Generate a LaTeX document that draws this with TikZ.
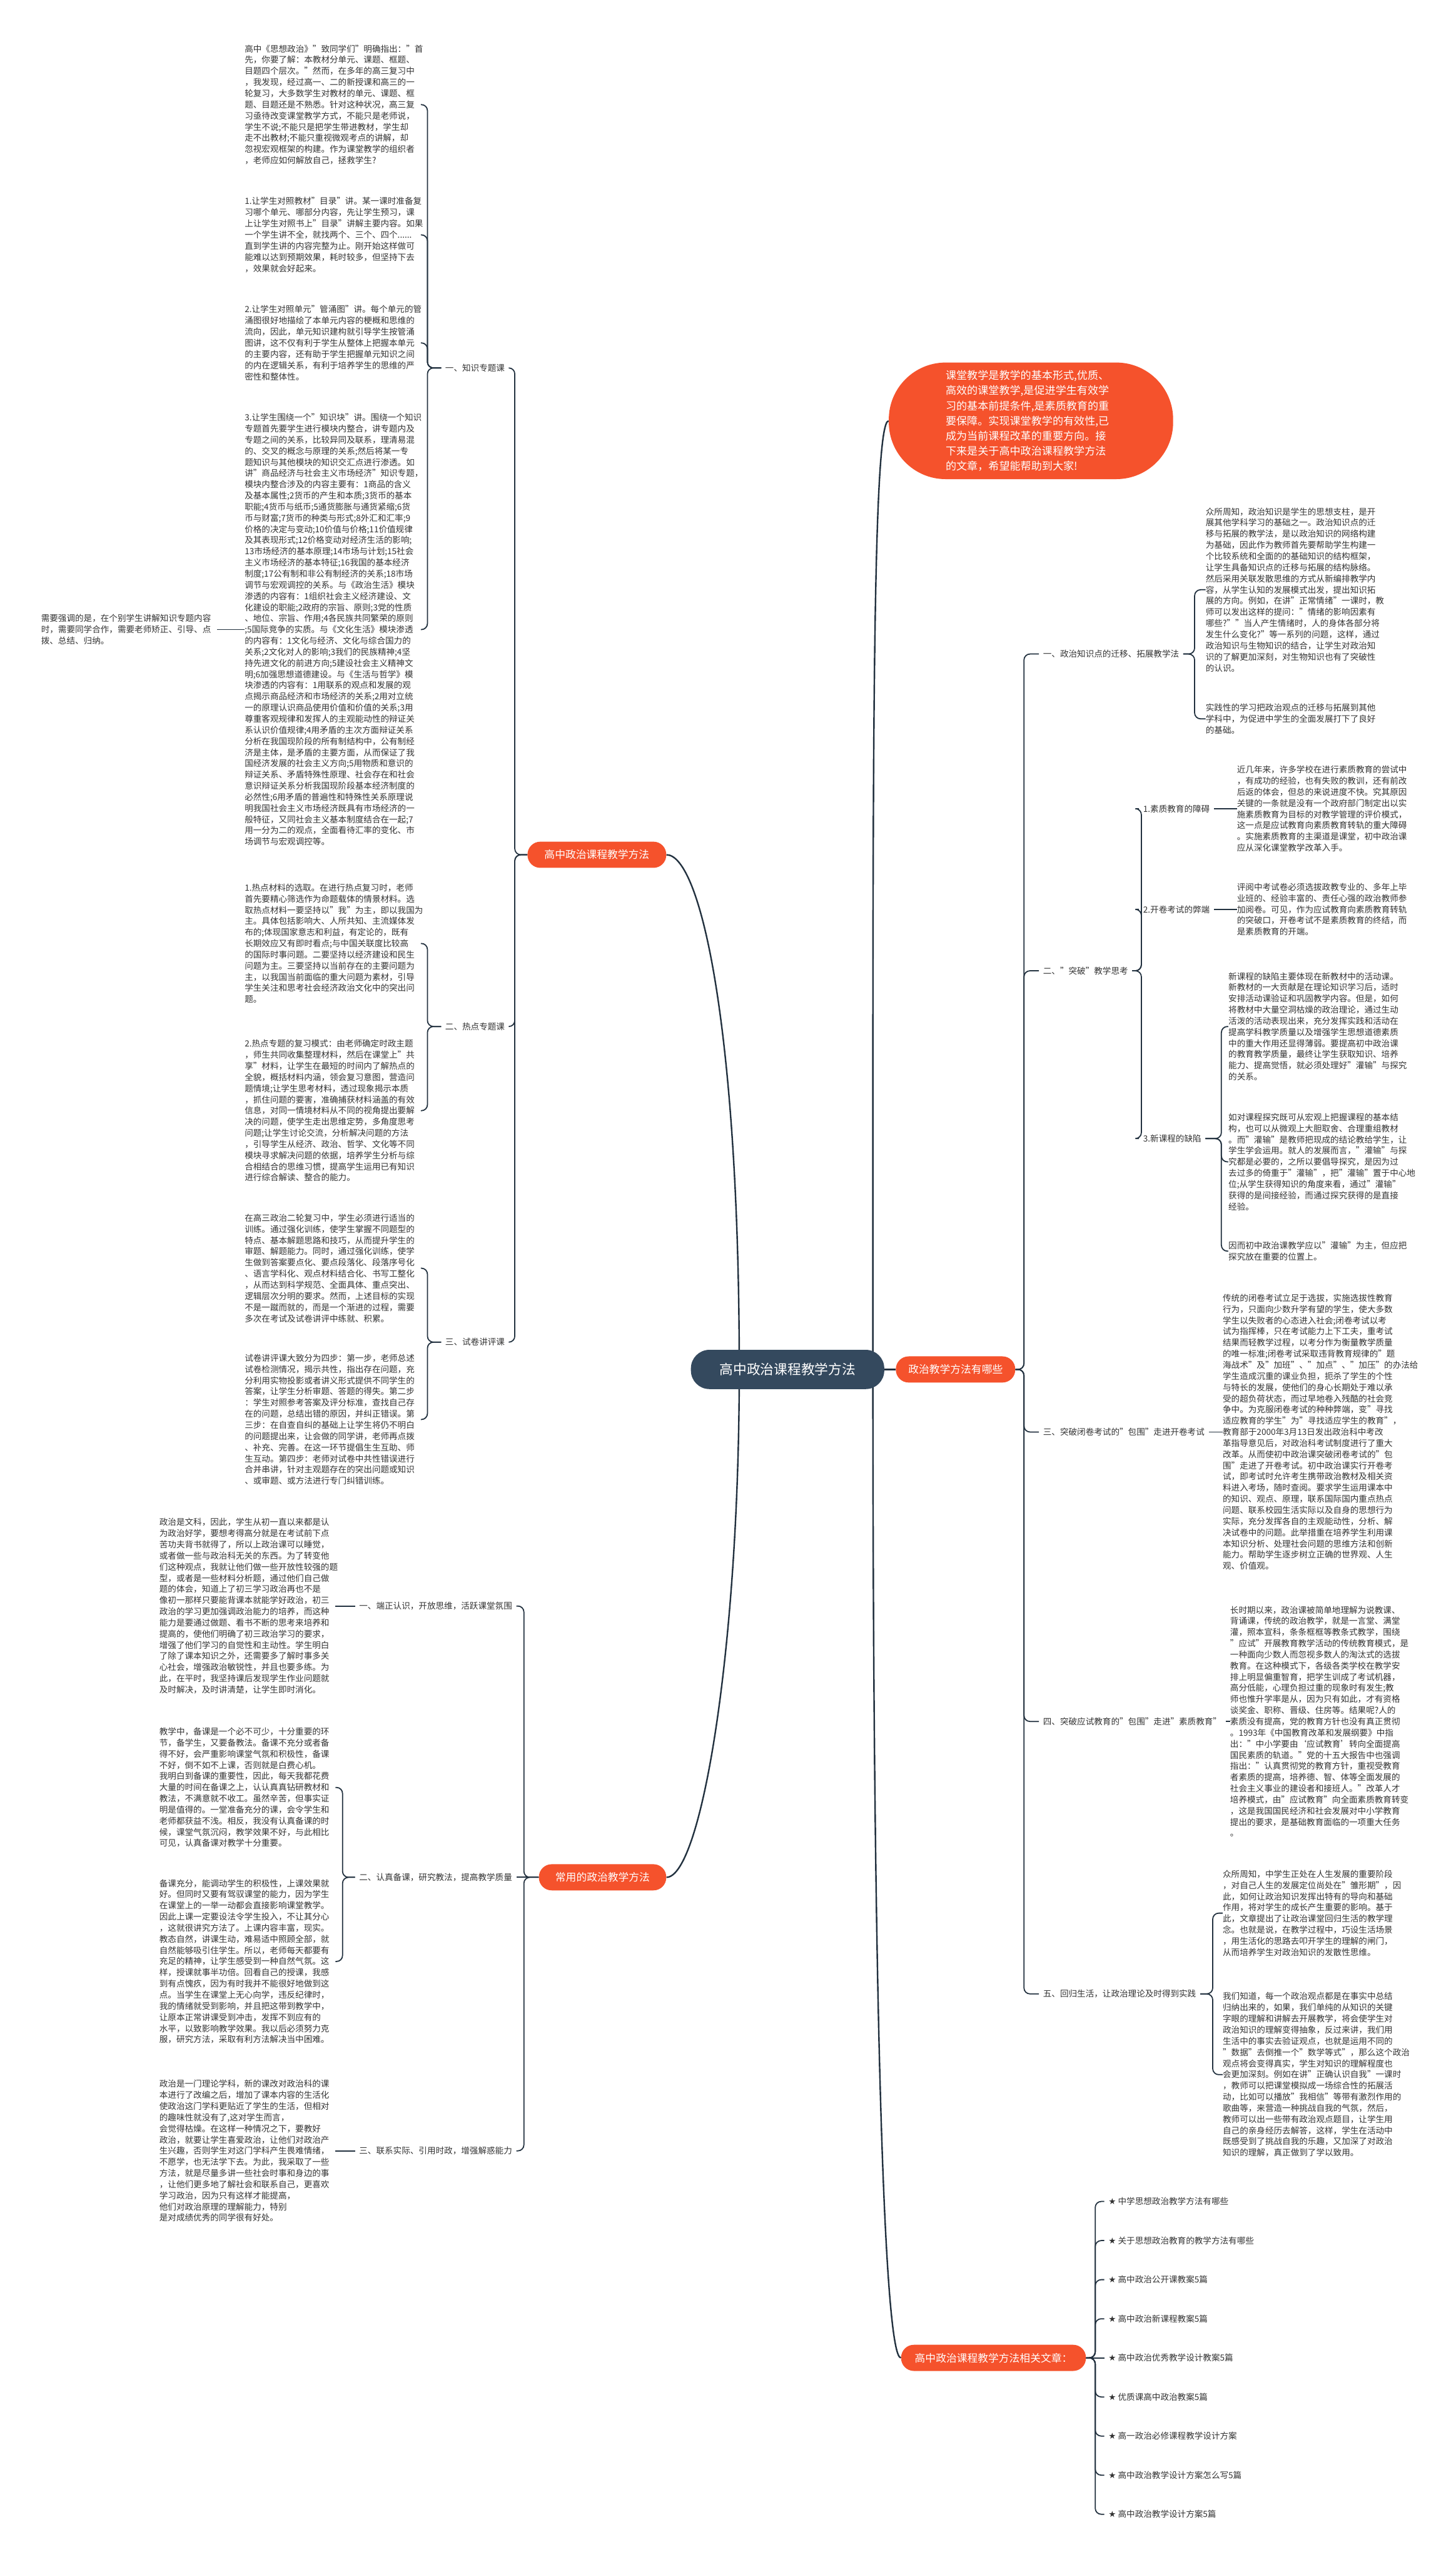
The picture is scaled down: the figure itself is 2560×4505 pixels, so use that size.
\documentclass[tikz,border=0pt]{standalone}
\usepackage{fontspec}
\setmainfont{Noto Sans CJK SC}
\newfontfamily\starfont{DejaVu Sans}
\usetikzlibrary{backgrounds}
\definecolor{mapred}{HTML}{F5522C}
\definecolor{mapslate}{HTML}{34495E}
\definecolor{mapline}{HTML}{22313F}
\definecolor{maptext}{HTML}{333333}
\tikzset{
  txtblock/.style = {anchor=west,inner sep=0pt,align=left,text width=176pt,text=maptext,font=\fontsize{8.5}{11.17}\selectfont},
  lbl/.style      = {inner xsep=4pt,inner ysep=1pt,text=maptext,font=\fontsize{8.5}{11.17}\selectfont},
  branch/.style   = {fill=mapred,text=white,rounded corners=4.5mm,minimum height=9.2mm,inner xsep=3mm,font=\fontsize{10.5}{12}\selectfont},
  rootbox/.style  = {fill=mapslate,text=white,rounded corners=6.5mm,minimum width=68mm,minimum height=13.8mm,font=\fontsize{13.6}{16}\selectfont},
  link/.style     = {draw=mapline,line width=1.1pt,rounded corners=6pt},
  trunk/.style    = {draw=mapline,line width=1.5pt}
}

\begin{document}
\begin{tikzpicture}[x=0.2mm,y=-0.2mm]
  \useasboundingbox (0,0) rectangle (2560,4505);

  % centre and main branches
  \node[rootbox] (root) at (1385,2408) {高中政治课程教学方法};
  \node[fill=mapred,text=white,rounded corners=20mm,minimum width=100mm,minimum height=41mm,
        text width=60mm,align=left,font=\fontsize{10.7}{15.1}\selectfont] (intro) at (1813,740)
    {课堂教学是教学的基本形式,优质、\\高效的课堂教学,是促进学生有效学\\习的基本前提条件,是素质教育的重\\要保障。实现课堂教学的有效性,已\\成为当前课程改革的重要方向。接\\下来是关于高中政治课程教学方法\\的文章，希望能帮助到大家!};
  \node[branch,minimum width=42mm,anchor=west]   (ffyn) at (1575,2408) {政治教学方法有哪些};
  \node[branch,minimum width=65mm,anchor=east]   (xgwz) at (1910,4146) {高中政治课程教学方法相关文章：};
  \node[branch,minimum width=48.8mm,anchor=east] (hzk)  at (1172,1503) {高中政治课程教学方法};
  \node[branch,minimum width=44.8mm,anchor=east] (cyff) at (1172,3301) {常用的政治教学方法};

  % left: 高中政治课程教学方法
  \node[lbl,anchor=east] (k1) at (895,647)  {一、知识专题课};
  \node[lbl,anchor=east] (k2) at (895,1805) {二、热点专题课};
  \node[lbl,anchor=east] (k3) at (895,2360) {三、试卷讲评课};

  \node[txtblock] (a0) at (430,184) {高中《思想政治》"致同学们"明确指出："首\\先，你要了解：本教材分单元、课题、框题、\\目题四个层次。"然而，在多年的高三复习中\\，我发现，经过高一、二的新授课和高三的一\\轮复习，大多数学生对教材的单元、课题、框\\题、目题还是不熟悉。针对这种状况，高三复\\习亟待改变课堂教学方式，不能只是老师说，\\学生不说;不能只是把学生带进教材，学生却\\走不出教材;不能只重视微观考点的讲解，却\\忽视宏观框架的构建。作为课堂教学的组织者\\，老师应如何解放自己，拯救学生?};
  \node[txtblock] (a1) at (430,413) {1.让学生对照教材"目录"讲。某一课时准备复\\习哪个单元、哪部分内容，先让学生预习，课\\上让学生对照书上"目录"讲解主要内容。如果\\一个学生讲不全，就找两个、三个、四个......\\直到学生讲的内容完整为止。刚开始这样做可\\能难以达到预期效果，耗时较多，但坚持下去\\，效果就会好起来。};
  \node[txtblock] (a2) at (430,603) {2.让学生对照单元"管涌图"讲。每个单元的管\\涌图很好地描绘了本单元内容的梗概和思维的\\流向，因此，单元知识建构就引导学生按管涌\\图讲，这不仅有利于学生从整体上把握本单元\\的主要内容，还有助于学生把握单元知识之间\\的内在逻辑关系，有利于培养学生的思维的严\\密性和整体性。};
  \node[txtblock] (a3) at (430,1107) {3.让学生围绕一个"知识块"讲。围绕一个知识\\专题首先要学生进行模块内整合，讲专题内及\\专题之间的关系，比较异同及联系，理清易混\\的、交叉的概念与原理的关系;然后将某一专\\题知识与其他模块的知识交汇点进行渗透。如\\讲"商品经济与社会主义市场经济"知识专题，\\模块内整合涉及的内容主要有：1商品的含义\\及基本属性;2货币的产生和本质;3货币的基本\\职能;4货币与纸币;5通货膨胀与通货紧缩;6货\\币与财富;7货币的种类与形式;8外汇和汇率;9\\价格的决定与变动;10价值与价格;11价值规律\\及其表现形式;12价格变动对经济生活的影响;\\13市场经济的基本原理;14市场与计划;15社会\\主义市场经济的基本特征;16我国的基本经济\\制度;17公有制和非公有制经济的关系;18市场\\调节与宏观调控的关系。与《政治生活》模块\\渗透的内容有：1组织社会主义经济建设、文\\化建设的职能;2政府的宗旨、原则;3党的性质\\、地位、宗旨、作用;4各民族共同繁荣的原则\\;5国际竞争的实质。与《文化生活》模块渗透\\的内容有：1文化与经济、文化与综合国力的\\关系;2文化对人的影响;3我们的民族精神;4坚\\持先进文化的前进方向;5建设社会主义精神文\\明;6加强思想道德建设。与《生活与哲学》模\\块渗透的内容有：1用联系的观点和发展的观\\点揭示商品经济和市场经济的关系;2用对立统\\一的原理认识商品使用价值和价值的关系;3用\\尊重客观规律和发挥人的主观能动性的辩证关\\系认识价值规律;4用矛盾的主次方面辩证关系\\分析在我国现阶段的所有制结构中，公有制经\\济是主体，是矛盾的主要方面，从而保证了我\\国经济发展的社会主义方向;5用物质和意识的\\辩证关系、矛盾特殊性原理、社会存在和社会\\意识辩证关系分析我国现阶段基本经济制度的\\必然性;6用矛盾的普遍性和特殊性关系原理说\\明我国社会主义市场经济既具有市场经济的一\\般特征，又同社会主义基本制度结合在一起;7\\用一分为二的观点，全面看待汇率的变化、市\\场调节与宏观调控等。};
  \node[txtblock] (note) at (72,1107) {需要强调的是，在个别学生讲解知识专题内容\\时，需要同学合作，需要老师矫正、引导、点\\拨、总结、归纳。};
  \node[txtblock] (a4) at (430,1659) {1.热点材料的选取。在进行热点复习时，老师\\首先要精心筛选作为命题载体的情景材料。选\\取热点材料一要坚持以"我"为主，即以我国为\\主。具体包括影响大、人所共知、主流媒体发\\布的;体现国家意志和利益，有定论的，既有\\长期效应又有即时看点;与中国关联度比较高\\的国际时事问题。二要坚持以经济建设和民生\\问题为主。三要坚持以当前存在的主要问题为\\主，以我国当前面临的重大问题为素材，引导\\学生关注和思考社会经济政治文化中的突出问\\题。};
  \node[txtblock] (a5) at (430,1953) {2.热点专题的复习模式：由老师确定时政主题\\，师生共同收集整理材料，然后在课堂上"共\\享"材料，让学生在最短的时间内了解热点的\\全貌，概括材料内涵，领会复习意图，营造问\\题情境;让学生思考材料，透过现象揭示本质\\，抓住问题的要害，准确捕获材料涵盖的有效\\信息，对同一情境材料从不同的视角提出要解\\决的问题，使学生走出思维定势，多角度思考\\问题;让学生讨论交流，分析解决问题的方法\\，引导学生从经济、政治、哲学、文化等不同\\模块寻求解决问题的依据，培养学生分析与综\\合相结合的思维习惯，提高学生运用已有知识\\进行综合解读、整合的能力。};
  \node[txtblock] (a6) at (430,2230) {在高三政治二轮复习中，学生必须进行适当的\\训练。通过强化训练，使学生掌握不同题型的\\特点、基本解题思路和技巧，从而提升学生的\\审题、解题能力。同时，通过强化训练，使学\\生做到答案要点化、要点段落化、段落序号化\\、语言学科化、观点材料结合化、书写工整化\\，从而达到科学规范、全面具体、重点突出、\\逻辑层次分明的要求。然而，上述目标的实现\\不是一蹴而就的，而是一个渐进的过程，需要\\多次在考试及试卷讲评中练就、积累。};
  \node[txtblock] (a7) at (430,2496) {试卷讲评课大致分为四步：第一步，老师总述\\试卷检测情况，揭示共性，指出存在问题，充\\分利用实物投影或者讲义形式提供不同学生的\\答案，让学生分析审题、答题的得失。第二步\\：学生对照参考答案及评分标准，查找自己存\\在的问题，总结出错的原因，并纠正错误。第\\三步：在自查自纠的基础上让学生将仍不明白\\的问题提出来，让会做的同学讲，老师再点拨\\、补充、完善。在这一环节提倡生生互助、师\\生互动。第四步：老师对试卷中共性错误进行\\合并串讲，针对主观题存在的突出问题或知识\\、或审题、或方法进行专门纠错训练。};

  % left: 常用的政治教学方法
  \node[lbl,anchor=east] (c1) at (908,2824) {一、端正认识，开放思维，活跃课堂氛围};
  \node[lbl,anchor=east] (c2) at (908,3301) {二、认真备课，研究教法，提高教学质量};
  \node[lbl,anchor=east] (c3) at (908,3782) {三、联系实际、引用时政，增强解惑能力};

  \node[txtblock] (b1) at (280,2824) {政治是文科，因此，学生从初一直以来都是认\\为政治好学，要想考得高分就是在考试前下点\\苦功夫背书就得了，所以上政治课可以睡觉，\\或者做一些与政治科无关的东西。为了转变他\\们这种观点，我就让他们做一些开放性较强的题\\型，或者是一些材料分析题，通过他们自己做\\题的体会，知道上了初三学习政治再也不是\\像初一那样只要能背课本就能学好政治，初三\\政治的学习更加强调政治能力的培养，而这种\\能力是要通过做题、看书不断的思考来培养和\\提高的，使他们明确了初三政治学习的要求，\\增强了他们学习的自觉性和主动性。学生明白\\了除了课本知识之外，还需要多了解时事多关\\心社会，增强政治敏锐性，并且也要多练。为\\此，在平时，我坚持课后发现学生作业问题就\\及时解决，及时讲清楚，让学生即时消化。};
  \node[txtblock] (b2) at (280,3143) {教学中，备课是一个必不可少，十分重要的环\\节，备学生，又要备教法。备课不充分或者备\\得不好，会严重影响课堂气氛和积极性，备课\\不好，倒不如不上课，否则就是白费心机。\\我明白到备课的重要性，因此，每天我都花费\\大量的时间在备课之上，认认真真钻研教材和\\教法，不满意就不收工。虽然辛苦，但事实证\\明是值得的。一堂准备充分的课，会令学生和\\老师都获益不浅。相反，我没有认真备课的时\\候，课堂气氛沉闷，教学效果不好，与此相比\\可见，认真备课对教学十分重要。};
  \node[txtblock] (b3) at (280,3449) {备课充分，能调动学生的积极性，上课效果就\\好。但同时又要有驾驭课堂的能力，因为学生\\在课堂上的一举一动都会直接影响课堂教学。\\因此上课一定要设法令学生投入，不让其分心\\，这就很讲究方法了。上课内容丰富，现实。\\教态自然，讲课生动，难易适中照顾全部，就\\自然能够吸引住学生。所以，老师每天都要有\\充足的精神，让学生感受到一种自然气氛。这\\样，授课就事半功倍。回看自己的授课，我感\\到有点愧疚，因为有时我并不能很好地做到这\\点。当学生在课堂上无心向学，违反纪律时，\\我的情绪就受到影响，并且把这带到教学中，\\让原本正常讲课受到冲击，发挥不到应有的\\水平，以致影响教学效果。我以后必须努力克\\服，研究方法，采取有利方法解决当中困难。};
  \node[txtblock] (b4) at (280,3782) {政治是一门理论学科，新的课改对政治科的课\\本进行了改编之后，增加了课本内容的生活化\\使政治这门学科更贴近了学生的生活，但相对\\的趣味性就没有了,这对学生而言，\\会觉得枯燥。在这样一种情况之下，要教好\\政治，就要让学生喜爱政治，让他们对政治产\\生兴趣，否则学生对这门学科产生畏难情绪，\\不愿学，也无法学下去。为此，我采取了一些\\方法，就是尽量多讲一些社会时事和身边的事\\，让他们更多地了解社会和联系自己，更喜欢\\学习政治，因为只有这样才能提高，\\他们对政治原理的理解能力，特别\\是对成绩优秀的同学很有好处。};

  % right: 政治教学方法有哪些
  \node[lbl,anchor=west] (r1) at (1827,1150) {一、政治知识点的迁移、拓展教学法};
  \node[lbl,anchor=west] (r2) at (1827,1707) {二、"突破"教学思考};
  \node[lbl,anchor=west] (r3) at (1827,2518) {三、突破闭卷考试的"包围"走进开卷考试};
  \node[lbl,anchor=west] (r4) at (1827,3027) {四、突破应试教育的"包围"走进"素质教育"};
  \node[lbl,anchor=west] (r5) at (1827,3506) {五、回归生活，让政治理论及时得到实践};

  \node[txtblock] (r1a) at (2120,1037) {众所周知，政治知识是学生的思想支柱，是开\\展其他学科学习的基础之一。政治知识点的迁\\移与拓展的教学法，是以政治知识的网络构建\\为基础，因此作为教师首先要帮助学生构建一\\个比较系统和全面的的基础知识的结构框架，\\让学生具备知识点的迁移与拓展的结构脉络。\\然后采用关联发散思维的方式从新编排教学内\\容，从学生认知的发展模式出发，提出知识拓\\展的方向。例如，在讲"正常情绪"一课时，教\\师可以发出这样的提问："情绪的影响因素有\\哪些?""当人产生情绪时，人的身体各部分将\\发生什么变化?"等一系列的问题，这样，通过\\政治知识与生物知识的结合，让学生对政治知\\识的了解更加深刻，对生物知识也有了突破性\\的认识。};
  \node[txtblock] (r1b) at (2120,1264) {实践性的学习把政治观点的迁移与拓展到其他\\学科中，为促进中学生的全面发展打下了良好\\的基础。};

  \node[lbl,anchor=west] (s1) at (2003,1422) {1.素质教育的障碍};
  \node[lbl,anchor=west] (s2) at (2003,1599) {2.开卷考试的弊端};
  \node[lbl,anchor=west] (s3) at (2003,2002) {3.新课程的缺陷};
  \node[txtblock] (s1t) at (2175,1422) {近几年来，许多学校在进行素质教育的尝试中\\，有成功的经验，也有失败的教训，还有前改\\后返的体会，但总的来说进度不快。究其原因\\关键的一条就是没有一个政府部门制定出以实\\施素质教育为目标的对教学管理的评价模式，\\这一点是应试教育向素质教育转轨的重大障碍\\。实施素质教育的主渠道是课堂，初中政治课\\应从深化课堂教学改革入手。};
  \node[txtblock] (s2t) at (2175,1599) {评阅中考试卷必须选拔政教专业的、多年上毕\\业班的、经验丰富的、责任心强的政治教师参\\加阅卷。可见，作为应试教育向素质教育转轨\\的突破口，开卷考试不是素质教育的终结，而\\是素质教育的开端。};
  \node[txtblock] (s3a) at (2160,1805) {新课程的缺陷主要体现在新教材中的活动课。\\新教材的一大贡献是在理论知识学习后，适时\\安排活动课验证和巩固教学内容。但是，如何\\将教材中大量空洞枯燥的政治理论，通过生动\\活泼的活动表现出来，充分发挥实践和活动在\\提高学科教学质量以及增强学生思想道德素质\\中的重大作用还显得薄弱。要提高初中政治课\\的教育教学质量，最终让学生获取知识、培养\\能力、提高觉悟，就必须处理好"灌输"与探究\\的关系。};
  \node[txtblock] (s3b) at (2160,2043) {如对课程探究既可从宏观上把握课程的基本结\\构，也可以从微观上大胆取舍、合理重组教材\\。而"灌输"是教师把现成的结论教给学生，让\\学生学会运用。就人的发展而言，"灌输"与探\\究都是必要的，之所以要倡导探究，是因为过\\去过多的倚重于"灌输"，把"灌输"置于中心地\\位;从学生获得知识的角度来看，通过"灌输"\\获得的是间接经验，而通过探究获得的是直接\\经验。};
  \node[txtblock] (s3c) at (2160,2200) {因而初中政治课教学应以"灌输"为主，但应把\\探究放在重要的位置上。};

  \node[txtblock] (r3t) at (2150,2518) {传统的闭卷考试立足于选拔，实施选拔性教育\\行为，只面向少数升学有望的学生，使大多数\\学生以失败者的心态进入社会;闭卷考试以考\\试为指挥棒，只在考试能力上下工夫，重考试\\结果而轻教学过程，以考分作为衡量教学质量\\的唯一标准;闭卷考试采取违背教育规律的"题\\海战术"及"加班"、"加点"、"加压"的办法给\\学生造成沉重的课业负担，扼杀了学生的个性\\与特长的发展，使他们的身心长期处于难以承\\受的超负荷状态，而过早地卷入残酷的社会竞\\争中。为克服闭卷考试的种种弊端，变"寻找\\适应教育的学生"为"寻找适应学生的教育"，\\教育部于2000年3月13日发出政治科中考改\\革指导意见后，对政治科考试制度进行了重大\\改革。从而使初中政治课突破闭卷考试的"包\\围"走进了开卷考试。初中政治课实行开卷考\\试，即考试时允许考生携带政治教材及相关资\\料进入考场，随时查阅。要求学生运用课本中\\的知识、观点、原理，联系国际国内重点热点\\问题、联系校园生活实际以及自身的思想行为\\实际，充分发挥各自的主观能动性，分析、解\\决试卷中的问题。此举措重在培养学生利用课\\本知识分析、处理社会问题的思维方法和创新\\能力。帮助学生逐步树立正确的世界观、人生\\观、价值观。};
  \node[txtblock] (r4t) at (2163,3027) {长时期以来，政治课被简单地理解为说教课、\\背诵课，传统的政治教学，就是一言堂、满堂\\灌，照本宣科，条条框框等教条式教学，围绕\\"应试"开展教育教学活动的传统教育模式，是\\一种面向少数人而忽视多数人的淘汰式的选拔\\教育。在这种模式下，各级各类学校在教学安\\排上明显偏重智育，把学生训成了考试机器，\\高分低能，心理负担过重的现象时有发生;教\\师也惟升学率是从，因为只有如此，才有资格\\谈奖金、职称、晋级、住房等。结果呢?人的\\素质没有提高，党的教育方针也没有真正贯彻\\。1993年《中国教育改革和发展纲要》中指\\出："中小学要由‘应试教育’转向全面提高\\国民素质的轨道。"党的十五大报告中也强调\\指出："认真贯彻党的教育方针，重视受教育\\者素质的提高，培养德、智、体等全面发展的\\社会主义事业的建设者和接班人。"改革人才\\培养模式，由"应试教育"向全面素质教育转变\\，这是我国国民经济和社会发展对中小学教育\\提出的要求，是基础教育面临的一项重大任务\\。};
  \node[txtblock] (r5a) at (2150,3364) {众所周知，中学生正处在人生发展的重要阶段\\，对自己人生的发展定位尚处在"雏形期"，因\\此，如何让政治知识发挥出特有的导向和基础\\作用，将对学生的成长产生重要的影响。基于\\此，文章提出了让政治课堂回归生活的教学理\\念。也就是说，在教学过程中，巧设生活场景\\，用生活化的思路去叩开学生的理解的闸门，\\从而培养学生对政治知识的发散性思维。};
  \node[txtblock] (r5b) at (2150,3648) {我们知道，每一个政治观点都是在事实中总结\\归纳出来的，如果，我们单纯的从知识的关键\\字眼的理解和讲解去开展教学，将会使学生对\\政治知识的理解变得抽象，反过来讲，我们用\\生活中的事实去验证观点，也就是运用不同的\\"数据"去倒推一个"数学等式"，那么这个政治\\观点将会变得真实，学生对知识的理解程度也\\会更加深刻。例如在讲"正确认识自我"一课时\\，教师可以把课堂模拟成一场综合性的拓展活\\动，比如可以播放"我相信"等带有激烈作用的\\歌曲等，来营造一种挑战自我的气氛，然后，\\教师可以出一些带有政治观点题目，让学生用\\自己的亲身经历去解答，这样，学生在活动中\\既感受到了挑战自我的乐趣，又加深了对政治\\知识的理解，真正做到了学以致用。};

  % right: related articles
  \foreach \t [count=\i] in {中学思想政治教学方法有哪些,关于思想政治教育的教学方法有哪些,
      高中政治公开课教案5篇,高中政治新课程教案5篇,高中政治优秀教学设计教案5篇,
      优质课高中政治教案5篇,高一政治必修课程教学设计方案,高中政治教学设计方案怎么写5篇,
      高中政治教学设计方案5篇}
    \node[lbl,anchor=west] (li\i) at (1942,3802.25+68.75*\i) {{\starfont ★}\ \t};

  % connectors
  \begin{pgfonlayer}{background}
    \fill[white] (0,0) rectangle (2560,4505);
    \path (root.center) ++(-85,0) coordinate (rootl);
    \path (root.center) ++(150,0) coordinate (rootr);
    \draw[trunk] (root.center) -- (rootl) .. controls +(0,-600) and +(60,0) .. (hzk.east);
    \draw[trunk] (root.center) -- (rootl) .. controls +(0,500) and +(60,0) .. (cyff.east);
    \draw[trunk] (root.center) -- (rootr) .. controls +(0,-1000) and +(-30,0) .. (intro.west);
    \draw[trunk] (root.center) -- (rootr) .. controls +(0,1100) and +(-30,0) .. (xgwz.west);
    \draw[trunk] (root.center) -- (ffyn.west);
  \end{pgfonlayer}

  \foreach \n in {k1,k2,k3} \draw[link] (hzk.west) -- ++(-22,0) |- (\n.east);
  \foreach \n in {a0,a1,a2,a3} \draw[link] (k1.west) -- ++(-24,0) |- (\n.east);
  \foreach \n in {a4,a5} \draw[link] (k2.west) -- ++(-24,0) |- (\n.east);
  \foreach \n in {a6,a7} \draw[link] (k3.west) -- ++(-24,0) |- (\n.east);
  \draw[link] (a3.west) -- (note.east);

  \foreach \n in {c1,c3} \draw[link] (cyff.west) -- ++(-26,0) |- (\n.east);
  \draw[link] (cyff.west) -- (c2.east);
  \draw[link] (c1.west) -- (b1.east);
  \foreach \n in {b2,b3} \draw[link] (c2.west) -- ++(-22,0) |- (\n.east);
  \draw[link] (c3.west) -- (b4.east);

  \foreach \n in {r1,r2,r3,r4,r5} \draw[link] (ffyn.east) -- ++(15,0) |- (\n.west);
  \foreach \n in {r1a,r1b} \draw[link] (r1.east) -- ++(20,0) |- (\n.west);
  \foreach \n in {s1,s2,s3} \draw[link] (r2.east) -- ++(16,0) |- (\n.west);
  \draw[link] (s1.east) -- (s1t.west);
  \draw[link] (s2.east) -- (s2t.west);
  \foreach \n in {s3a,s3b,s3c} \draw[link] (s3.east) -- ++(28,0) |- (\n.west);
  \draw[link] (r3.east) -- (r3t.west);
  \draw[link] (r4.east) -- (r4t.west);
  \foreach \n in {r5a,r5b} \draw[link] (r5.east) -- ++(22,0) |- (\n.west);

  \foreach \i in {1,2,3,4,6,7,8,9} \draw[link] (xgwz.east) -- ++(16,0) |- (li\i.west);
  \draw[link] (xgwz.east) -- (li5.west);
\end{tikzpicture}
\end{document}
